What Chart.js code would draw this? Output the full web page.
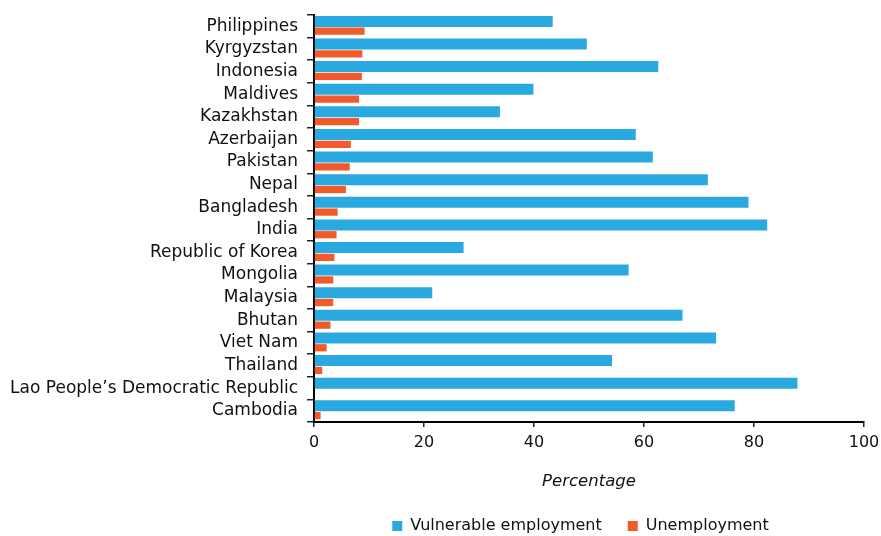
<!DOCTYPE html>
<html>
<head>
<meta charset="utf-8">
<script src="https://cdn.jsdelivr.net/npm/chart.js@4.4.1/dist/chart.umd.min.js"></script>
<style>
  body { margin: 0; background: #fff; }
  #wrap { width: 881px; height: 536px; }
</style>
</head>
<body>
<div id="wrap"><canvas id="chart" width="881" height="536"></canvas></div>
<script>
const countries = [
    'Philippines', 'Kyrgyzstan', 'Indonesia', 'Maldives', 'Kazakhstan', 'Azerbaijan',
    'Pakistan', 'Nepal', 'Bangladesh', 'India', 'Republic of Korea', 'Mongolia',
    'Malaysia', 'Bhutan', 'Viet Nam', 'Thailand', 'Lao People\u2019s Democratic Republic', 'Cambodia'
]

// share of vulnerable employment, %
const vulnerable = [
    43.4, 49.6, 62.6, 39.9, 33.8, 58.5,
    61.6, 71.6, 79.0, 82.4, 27.2, 57.2,
    21.5, 67.0, 73.1, 54.2, 87.9, 76.5
]

// unemployment rate, % (no value shown for Lao PDR)
const unemployment = [
    9.2, 8.8, 8.7, 8.2, 8.2, 6.7,
    6.5, 5.8, 4.3, 4.1, 3.7, 3.5,
    3.5, 3.0, 2.3, 1.5, null, 1.2
]

const x_ticks = [0, 20, 40, 60, 80, 100]

const color_blue = '#29A9E0'
const color_orange = '#F15A2B'
const font_family = '"DejaVu Sans", sans-serif'
const text_color = '#111'

// move the legend so it sits under the plot area, like the original
const legend_under_plot = {
    id: 'legendUnderPlot',
    afterLayout(chart) {
        const lg = chart.legend
        if (!lg) return
        lg.left = chart.chartArea.left - 17
        lg.right = chart.chartArea.right
    }
}

const chart_data = {
    labels: countries,
    datasets: [{
        label: 'Vulnerable employment',
        data: vulnerable,
        backgroundColor: color_blue,
        borderWidth: 0,
        categoryPercentage: 0.87,
        barPercentage: 1.12
    }, {
        label: 'Unemployment',
        data: unemployment,
        backgroundColor: color_orange,
        borderWidth: 0,
        categoryPercentage: 0.87,
        barPercentage: 0.74
    }]
}

const chart_config = {
    indexAxis: 'y',
    responsive: false,
    animation: false,
    devicePixelRatio: 1,
    layout: {
        padding: { top: 15, right: 17, bottom: -8, left: 0 }
    },
    plugins: {
        legend: {
            position: 'bottom',
            labels: {
                boxWidth: 10,
                boxHeight: 10,
                padding: 26,
                color: text_color,
                font: { size: 16, family: font_family }
            }
        },
        tooltip: { enabled: false }
    },
    scales: {
        x: {
            min: 0,
            max: 100,
            afterBuildTicks(scale) {
                scale.ticks = x_ticks.map(v => ({ value: v }))
            },
            afterFit(scale) {
                scale.paddingLeft = 0
                scale.paddingRight = 0
            },
            grid: {
                display: true,
                drawOnChartArea: false,
                drawTicks: true,
                tickLength: 5,
                color: '#222',
                lineWidth: 1.5
            },
            border: { display: true, color: '#000', width: 2 },
            ticks: {
                padding: 6,
                color: text_color,
                font: { size: 16, family: font_family }
            },
            title: {
                display: true,
                text: 'Percentage',
                color: text_color,
                padding: { top: 14, bottom: 0 },
                font: { size: 16.5, family: font_family, style: 'italic' }
            }
        },
        y: {
            afterFit(scale) {
                scale.width = 314
                scale.paddingTop = 0
                scale.paddingBottom = 0
            },
            grid: {
                display: true,
                offset: true,
                drawOnChartArea: false,
                drawTicks: true,
                tickLength: 7,
                color: '#222',
                lineWidth: 1.5
            },
            border: { display: true, color: '#000', width: 2 },
            ticks: {
                padding: 9,
                autoSkip: false,
                color: text_color,
                font: { size: 17, family: font_family }
            }
        }
    }
}

const chart = new Chart('chart', {
    type: 'bar',
    data: chart_data,
    options: chart_config,
    plugins: [legend_under_plot]
})
</script>
</body>
</html>
